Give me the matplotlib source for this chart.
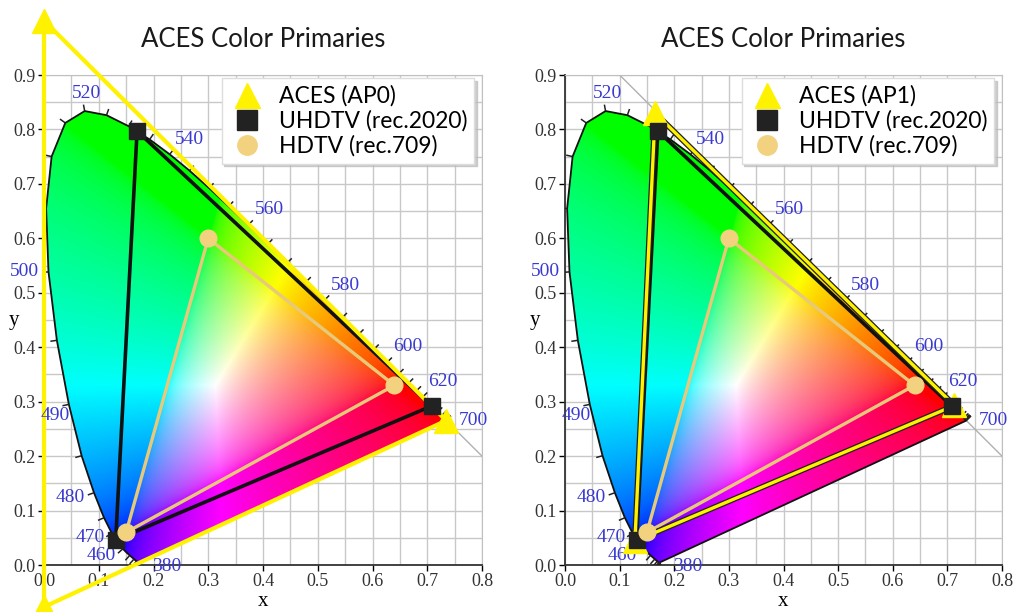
import numpy as np
import matplotlib
matplotlib.use("Agg")
import matplotlib.pyplot as plt
from matplotlib.patches import Polygon
import matplotlib.patheffects as pe

# ---- data ----
wavelengths = list(range(380, 705, 5))
locus_x = [0.1741, 0.1740, 0.1738, 0.1736, 0.1733, 0.1730, 0.1726, 0.1721, 0.1714, 0.1703,
           0.1689, 0.1669, 0.1644, 0.1611, 0.1566, 0.1510, 0.1440, 0.1355, 0.1241, 0.1096,
           0.0913, 0.0687, 0.0454, 0.0235, 0.0082, 0.0039, 0.0139, 0.0389, 0.0743, 0.1142,
           0.1547, 0.1929, 0.2296, 0.2658, 0.3016, 0.3373, 0.3731, 0.4087, 0.4441, 0.4788,
           0.5125, 0.5448, 0.5752, 0.6029, 0.6270, 0.6482, 0.6658, 0.6801, 0.6915, 0.7006,
           0.7079, 0.7140, 0.7190, 0.7230, 0.7260, 0.7283, 0.7300, 0.7311, 0.7320, 0.7327,
           0.7334, 0.7340, 0.7344, 0.7346, 0.7347]
locus_y = [0.0050, 0.0050, 0.0049, 0.0049, 0.0048, 0.0048, 0.0048, 0.0048, 0.0051, 0.0058,
           0.0069, 0.0086, 0.0109, 0.0138, 0.0177, 0.0227, 0.0297, 0.0399, 0.0578, 0.0868,
           0.1327, 0.2007, 0.2950, 0.4127, 0.5384, 0.6548, 0.7502, 0.8120, 0.8338, 0.8262,
           0.8059, 0.7816, 0.7543, 0.7243, 0.6923, 0.6589, 0.6245, 0.5896, 0.5547, 0.5202,
           0.4866, 0.4544, 0.4242, 0.3965, 0.3725, 0.3514, 0.3340, 0.3197, 0.3083, 0.2993,
           0.2920, 0.2859, 0.2809, 0.2770, 0.2740, 0.2717, 0.2700, 0.2689, 0.2680, 0.2673,
           0.2666, 0.2660, 0.2656, 0.2654, 0.2653]
label_wavelengths = [380, 460, 470, 480, 490, 500, 520, 540, 560, 580, 600, 620, 700]

ap0_x = [0.7347, 0.0, 0.0001]
ap0_y = [0.2653, 1.0, -0.0770]
ap1_x = [0.713, 0.165, 0.128]
ap1_y = [0.293, 0.830, 0.044]
rec2020_x = [0.708, 0.170, 0.131]
rec2020_y = [0.292, 0.797, 0.046]
rec709_x = [0.64, 0.30, 0.15]
rec709_y = [0.33, 0.60, 0.06]

title = "ACES Color Primaries"
xticks = [0.0, 0.1, 0.2, 0.3, 0.4, 0.5, 0.6, 0.7, 0.8]
yticks = [0.0, 0.1, 0.2, 0.3, 0.4, 0.5, 0.6, 0.7, 0.8, 0.9]

# ---- styling ----
TITLE_FONT = "Lato"
SERIF = "Liberation Serif"
BLUE = "#3a3ad0"
YELLOW = "#fff200"
TAN = "#f2d27e"
TAN_LINE = "#e8c97a"

# label offsets (in data units) for wavelength labels
label_off = {380: (0.05, -0.007), 460: (-0.04, -0.012), 470: (-0.04, -0.007),
             480: (-0.043, -0.008), 490: (-0.025, -0.02), 500: (-0.044, 0.0),
             520: (0.003, 0.032), 540: (0.036, 0.027), 560: (0.038, 0.029),
             580: (0.038, 0.027), 600: (0.038, 0.028), 620: (0.037, 0.028),
             700: (0.05, 0.0)}

# ---- chromaticity colour image ----
def chroma_image(nx=500, ny=560):
    xs = np.linspace(0, 0.8, nx)
    ys = np.linspace(0.001, 0.9, ny)
    X, Y = np.meshgrid(xs, ys)
    Xc = X / Y
    Yc = np.ones_like(X)
    Zc = (1 - X - Y) / Y
    M = np.array([[3.2406, -1.5372, -0.4986],
                  [-0.9689, 1.8758, 0.0415],
                  [0.0557, -0.2040, 1.0570]])
    xyz = np.stack([Xc, Yc, Zc], axis=-1)
    rgb = xyz @ M.T
    rgb = np.clip(rgb, 0, None)
    mx = rgb.max(axis=-1, keepdims=True)
    mx[mx == 0] = 1
    rgb = rgb / mx
    rgb = np.where(rgb <= 0.0031308, 12.92 * rgb, 1.055 * np.power(rgb, 1 / 2.4) - 0.055)
    return np.clip(rgb, 0, 1)

img = chroma_image()
lx = np.array(locus_x)
ly = np.array(locus_y)

fig = plt.figure(figsize=(10.13, 6.12), dpi=100)
ax1 = fig.add_axes([44 / 1013, 47 / 612, 438 / 1013, 490 / 612])
ax2 = fig.add_axes([565 / 1013, 47 / 612, 437 / 1013, 490 / 612])


def draw_panel(ax, aces_x, aces_y, aces_label, outline):
    ax.set_xlim(0, 0.8)
    ax.set_ylim(0, 0.9)
    ax.set_axisbelow(True)
    ax.set_xticks(xticks)
    ax.set_yticks(yticks)
    ax.set_xticks(np.arange(0.05, 0.8, 0.1), minor=True)
    ax.set_yticks(np.arange(0.05, 0.9, 0.1), minor=True)
    ax.grid(True, which="both", color="#c8c8c8", lw=1.0, zorder=0)
    ax.set_xticklabels([f"{v:.1f}" for v in xticks], fontfamily=SERIF, fontsize=13, color="#333333")
    ax.set_yticklabels([f"{v:.1f}" for v in yticks], fontfamily=SERIF, fontsize=13, color="#333333")
    ax.tick_params(which="major", length=4, width=1, direction="out", pad=2)
    ax.tick_params(which="minor", length=0)
    for s in ["top", "right"]:
        ax.spines[s].set_color("#c0c0c0")
    for s in ["left", "bottom"]:
        ax.spines[s].set_color("#333333")
        ax.spines[s].set_linewidth(1.3)
    ax.set_xlabel("x", fontfamily=SERIF, fontsize=15, labelpad=1)
    ax.set_ylabel("y", fontfamily=SERIF, fontsize=15, rotation=0, va="center", ha="center")
    ax.yaxis.set_label_coords(-0.068, 0.5)
    ax.set_title(title, fontfamily=TITLE_FONT, fontsize=18.5, pad=20, color="#1a1a1a")

    # x + y = 1 reference line
    ax.plot([0.1, 0.8], [0.9, 0.2], color="#b0b0b0", lw=1.0, zorder=1)

    # colour fill clipped to locus
    poly = Polygon(np.column_stack([lx, ly]), closed=True, facecolor="none",
                   edgecolor="#111111", lw=1.3, zorder=3, joinstyle="round")
    ax.add_patch(poly)
    im = ax.imshow(img, extent=[0, 0.8, 0.001, 0.9], origin="lower", aspect="auto",
                   interpolation="bilinear", zorder=2)
    im.set_clip_path(poly)

    # ticks along locus
    for i, w in enumerate(wavelengths):
        if w < 460 or w > 620:
            if w % 10 != 0:
                continue
        j0 = max(i - 1, 0)
        j1 = min(i + 1, len(lx) - 1)
        tx, ty = lx[j1] - lx[j0], ly[j1] - ly[j0]
        n = np.hypot(tx, ty)
        if n < 1e-6:
            continue
        nx_, ny_ = ty / n, -tx / n
        if (lx[i] - 0.31) * nx_ + (ly[i] - 0.32) * ny_ < 0:
            nx_, ny_ = -nx_, -ny_
        L = 0.012
        ax.plot([lx[i], lx[i] + nx_ * L], [ly[i], ly[i] + ny_ * L], color="#222222",
                lw=1.1, zorder=3, solid_capstyle="butt")

    for w in label_wavelengths:
        i = wavelengths.index(w)
        dx, dy = label_off[w]
        ax.text(lx[i] + dx, ly[i] + dy, str(w), fontfamily=SERIF, fontsize=14,
                color=BLUE, ha="center", va="center", zorder=6, clip_on=False)

    # Rec.709
    ax.plot(rec709_x + rec709_x[:1], rec709_y + rec709_y[:1], color=TAN_LINE, lw=2.4, zorder=4)
    # Rec.2020
    ax.plot(rec2020_x + rec2020_x[:1], rec2020_y + rec2020_y[:1], color="#111111", lw=2.6, zorder=4)
    # ACES
    if outline:
        ax.plot(aces_x + aces_x[:1], aces_y + aces_y[:1], color=YELLOW, lw=2.4, zorder=5,
                clip_on=False, path_effects=[pe.Stroke(linewidth=4.2, foreground="#222222"), pe.Normal()])
    else:
        ax.plot(aces_x + aces_x[:1], aces_y + aces_y[:1], color=YELLOW, lw=3.0, zorder=5,
                clip_on=False)

    ax.plot(aces_x, aces_y, ls="none", marker="^", ms=17, color=YELLOW, mec=YELLOW,
            zorder=6, clip_on=False)
    ax.plot(rec2020_x, rec2020_y, ls="none", marker="s", ms=12, color="#222222",
            zorder=6, clip_on=False)
    ax.plot(rec709_x, rec709_y, ls="none", marker="o", ms=12, color=TAN, zorder=6, clip_on=False)

    h1 = ax.plot([], [], ls="none", marker="^", ms=18, color=YELLOW, label=aces_label)[0]
    h2 = ax.plot([], [], ls="none", marker="s", ms=14, color="#222222", label="UHDTV (rec.2020)")[0]
    h3 = ax.plot([], [], ls="none", marker="o", ms=14, color=TAN, label="HDTV (rec.709)")[0]
    leg = ax.legend(handles=[h1, h2, h3], loc="upper right", bbox_to_anchor=(0.99, 1.0),
                    prop={"family": TITLE_FONT, "size": 16.5}, frameon=True, fancybox=False,
                    shadow={"color": "#bbbbbb", "alpha": 0.7}, borderpad=0.3,
                    handletextpad=0.6, labelspacing=0.15, handlelength=1.6, borderaxespad=0.15)
    leg.get_frame().set_edgecolor("#dddddd")
    leg.get_frame().set_alpha(1.0)
    leg.set_zorder(10)


draw_panel(ax1, ap0_x, ap0_y, "ACES (AP0)", outline=False)
draw_panel(ax2, ap1_x, ap1_y, "ACES (AP1)", outline=True)

fig.savefig("out.png", dpi=100, facecolor="white")
